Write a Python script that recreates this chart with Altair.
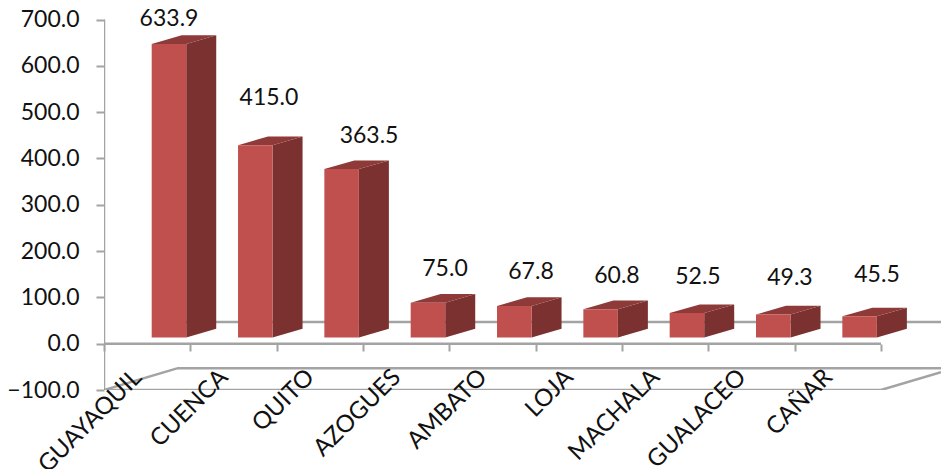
import altair as alt
import pandas as pd

categories = ["GUAYAQUIL", "CUENCA", "QUITO", "AZOGUES", "AMBATO", "LOJA", "MACHALA", "GUALACEO", "CAÑAR"]
values = [633.9, 415.0, 363.5, 75.0, 67.8, 60.8, 52.5, 49.3, 45.5]
value_labels = ["633.9", "415.0", "363.5", "75.0", "67.8", "60.8", "52.5", "49.3", "45.5"]
y_ticks = [-100, 0, 100, 200, 300, 400, 500, 600, 700]

# layout (data units of the two scales)
X_MAX = 837 / 86.33
Y_MIN, Y_MAX = -100, 725
BAR_OFF, BAR_W, BAR_DX, BAR_RISE, BAR_LIFT = 0.5525, 0.40, 0.3475, 18.8, 13.6
FLOOR_DX, FLOOR_RISE = 0.846, 46.8
LABEL_X = [0.753, 1.911, 3.07, 3.95, 4.946, 5.942, 6.88, 7.946, 8.954]
LABEL_Y = [702, 531, 449, 162, 155.5, 147, 145, 142.5, 149]

GRAY = "#a3a3a3"
FONT = "Lato"
n = len(categories)

front, side, top, labels, xlabels = [], [], [], [], []
for i, (c, v, t) in enumerate(zip(categories, values, value_labels)):
    l = i + BAR_OFF
    r = l + BAR_W
    vt = v + BAR_LIFT
    front.append({"x": l, "x2": r, "y": BAR_LIFT, "y2": vt})
    side.append({"b": i, "x": r, "y": BAR_LIFT, "y2": vt})
    side.append({"b": i, "x": r + BAR_DX, "y": BAR_LIFT + BAR_RISE, "y2": vt + BAR_RISE})
    top.append({"b": i, "y": vt, "x": l, "x2": r})
    top.append({"b": i, "y": vt + BAR_RISE, "x": l + BAR_DX, "x2": r + BAR_DX})
    labels.append({"x": LABEL_X[i], "y": LABEL_Y[i], "t": t})
    xlabels.append({"x": i + 0.5, "y": Y_MIN, "t": c})

xs = alt.Scale(domain=[0, X_MAX], nice=False, zero=False)
ys = alt.Scale(domain=[Y_MIN, Y_MAX], nice=False, zero=False)
x = alt.X("x:Q", scale=xs, title=None, axis=alt.Axis(
    values=list(range(n + 1)), labels=False, domain=False, grid=False, tickSize=7,
    tickWidth=2, tickColor=GRAY, offset=-46))
y = alt.Y("y:Q", scale=ys, title=None, axis=alt.Axis(
    values=y_ticks, format=".1f", domain=False, grid=False, tickSize=8, tickWidth=2, tickColor=GRAY,
    labelFont=FONT, labelFontSize=23, labelColor="#111111", labelPadding=17))


def segs(rows):
    return alt.Chart(pd.DataFrame(rows))


line_rows = [
    {"s": "front", "x": 0, "y": Y_MIN}, {"s": "front", "x": n, "y": Y_MIN},
    {"s": "back", "x": FLOOR_DX, "y": Y_MIN + FLOOR_RISE}, {"s": "back", "x": X_MAX, "y": Y_MIN + FLOOR_RISE},
    {"s": "dl", "x": 0, "y": Y_MIN}, {"s": "dl", "x": FLOOR_DX, "y": Y_MIN + FLOOR_RISE},
    {"s": "dr", "x": n, "y": Y_MIN}, {"s": "dr", "x": X_MAX, "y": Y_MIN + (X_MAX - n) / FLOOR_DX * FLOOR_RISE},
    {"s": "wall", "x": FLOOR_DX, "y": FLOOR_RISE}, {"s": "wall", "x": X_MAX, "y": FLOOR_RISE},
    {"s": "zero", "x": 0, "y": 0}, {"s": "zero", "x": n, "y": 0},
    {"s": "yaxis", "x": 0, "y": Y_MIN}, {"s": "yaxis", "x": 0, "y": y_ticks[-1]},
]

lines = segs(line_rows).mark_line(color=GRAY, strokeWidth=2.5, clip=True).encode(x=x, y=y, detail="s:N")
side_l = segs(side).mark_area(color="#7b3130").encode(x=x, y=y, y2="y2:Q", detail="b:N")
top_l = segs(top).mark_area(color="#8e3a38", orient="horizontal").encode(y=y, x=x, x2="x2:Q", detail="b:N")
front_l = segs(front).mark_rect(color="#c0504d").encode(x=x, x2="x2:Q", y=y, y2="y2:Q")
text_l = segs(labels).mark_text(font=FONT, fontSize=23, color="#111111").encode(x=x, y=y, text="t:N")
xtext = segs(xlabels).mark_text(font=FONT, fontSize=24, color="#111111", angle=315, align="right",
                                baseline="middle", dx=5, dy=-18).encode(x=x, y=y, text="t:N")

chart = alt.layer(lines, side_l, top_l, front_l, text_l, xtext).resolve_scale(x="shared", y="shared").properties(
    width=837, height=382, autosize="none", background="white",
    padding={"left": 96, "top": 0, "right": 0, "bottom": 79},
).configure_view(stroke=None)

chart.save("out.html", embed_options={"renderer": "svg", "actions": False})
